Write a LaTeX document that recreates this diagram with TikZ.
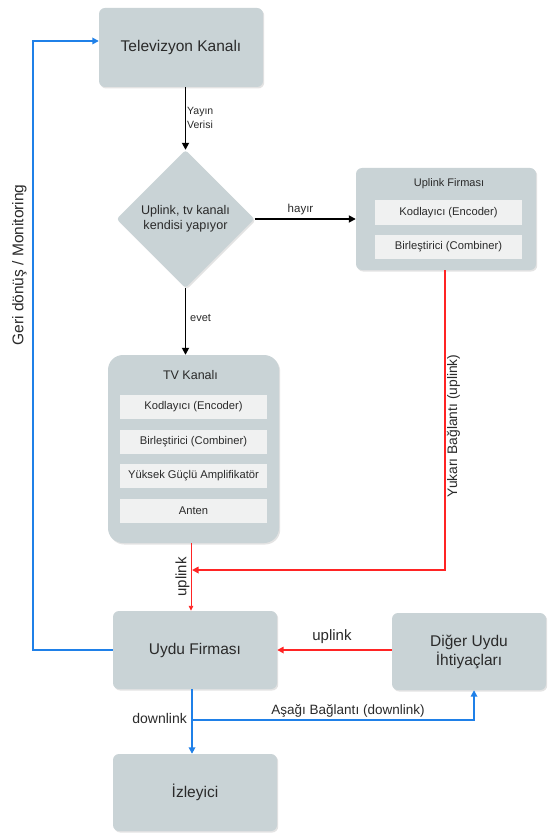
\documentclass[tikz,border=0pt]{standalone}
\usepackage{fontspec}
\setmainfont{Liberation Sans}
\usetikzlibrary{shapes.geometric,arrows.meta,shadows}
\definecolor{boxgray}{HTML}{C9D3D6}
\definecolor{innerg}{HTML}{F0F1F1}
\definecolor{lblue}{HTML}{1F80E8}
\definecolor{lred}{HTML}{FF2424}
\definecolor{txt}{HTML}{2A2A2A}
\begin{document}
\begin{tikzpicture}[x=1pt,y=1pt,
  box/.style={fill=boxgray, rounded corners=6pt, drop shadow={opacity=0.22, shadow xshift=1.2pt, shadow yshift=-1.5pt}, text=txt, font=\fontsize{15.5}{19}\selectfont, align=center, inner sep=0pt},
  innerbox/.style={fill=innerg, minimum width=147pt, minimum height=24pt, font=\fontsize{11.2}{13}\selectfont, text=txt, inner sep=0pt},
  lbl/.style={text=txt, inner sep=0pt},
  blk/.style={draw=black, line width=1.7pt, -{Triangle[length=7pt,width=7pt]}},
  blu/.style={draw=lblue, line width=1.6pt, -{Triangle[length=6.5pt,width=6.5pt]}},
  redthick/.style={draw=lred, line width=1.6pt, -{Triangle[length=6.5pt,width=6.5pt]}},
  redthin/.style={draw=lred, line width=0.9pt, -{Triangle[length=5pt,width=4.5pt]}}
]
\useasboundingbox (0,0) rectangle (547,-834);
\fill[white] (0,0) rectangle (547,-834);

% main boxes
\node[box, minimum width=164pt, minimum height=79pt] (tvk) at (181,-47.5) {Televizyon Kanalı};
\node[diamond, fill=boxgray, rounded corners=3pt, drop shadow={opacity=0.22, shadow xshift=1.2pt, shadow yshift=-1.5pt}, minimum width=138pt, minimum height=138pt, inner sep=0pt, align=center, text=txt, font=\fontsize{12.6}{15}\selectfont] (dia) at (185.5,-219) {Uplink, tv kanalı\\kendisi yapıyor};

\node[box, minimum width=180pt, minimum height=102pt] (ufirm) at (446,-219) {};
\node[lbl, font=\fontsize{11}{13}\selectfont] (uftitle) at (449,-184) {Uplink Firması};
\node[innerbox] (uf1) at (448.5,-212.5) {Kodlayıcı (Encoder)};
\node[innerbox] (uf2) at (448.5,-247) {Birleştirici (Combiner)};

\node[box, rounded corners=15pt, minimum width=171pt, minimum height=188pt] (tvbox) at (193.5,-449) {};
\node[lbl, font=\fontsize{12.5}{15}\selectfont] (tvtitle) at (190.5,-375) {TV Kanalı};
\node[innerbox] (tv1) at (193.5,-407) {Kodlayıcı (Encoder)};
\node[innerbox] (tv2) at (193.5,-441.5) {Birleştirici (Combiner)};
\node[innerbox] (tv3) at (193.5,-476) {Yüksek Güçlü Amplifikatör};
\node[innerbox] (tv4) at (193.5,-511) {Anten};

\node[box, minimum width=164pt, minimum height=78pt] (uydu) at (195,-650) {Uydu Firması};
\node[box, minimum width=154pt, minimum height=77pt] (diger) at (469,-651.5) {Diğer Uydu\\İhtiyaçları};
\node[box, minimum width=164pt, minimum height=77pt] (izle) at (195,-792.5) {İzleyici};

% helper coordinates
\coordinate (jr) at (191,-570);
\coordinate (c1) at (445,-570);
\coordinate (fb1) at (33,-650);
\coordinate (fb2) at (33,-41);
\coordinate (dl) at (192,-720);
\coordinate (dr) at (474,-720);

% black arrows
\draw[blk] (dia.north |- tvk.south) -- (dia.north);
\draw[blk] (dia.east) -- (ufirm.west |- dia.east);
\draw[blk] (dia.south) -- (dia.south |- tvbox.north);
\node[lbl, font=\fontsize{10.5}{14}\selectfont, align=left, anchor=west] (yv) at (187,-118) {Yayın\\Verisi};
\node[lbl, font=\fontsize{11.5}{13}\selectfont] (hy) at (300.5,-210) {hayır};
\node[lbl, font=\fontsize{11}{13}\selectfont, anchor=west] (ev) at (190,-318) {evet};

% red uplinks
\draw[redthin] (tvbox.south -| jr) -- (uydu.north -| jr);
\draw[redthick] (ufirm.south -| c1) -- (c1) -- ([xshift=1pt]jr);
\draw[redthick] (diger.west |- uydu.east) -- (uydu.east);
\node[lbl, rotate=90, font=\fontsize{15}{18}\selectfont] (ul1) at (182.5,-577) {uplink};
\node[lbl, rotate=90, font=\fontsize{13.8}{16}\selectfont] (ul2) at (453.5,-426) {Yukarı Bağlantı (uplink)};
\node[lbl, font=\fontsize{15}{18}\selectfont] (ul3) at (332,-637) {uplink};

% blue
\draw[blu] (uydu.west) -- (fb1) -- (fb2) -- (tvk.west |- fb2);
\node[lbl, rotate=90, font=\fontsize{15.5}{18}\selectfont] (geri) at (19.5,-265) {Geri dönüş / Monitoring};
\draw[blu] (uydu.south -| dl) -- (izle.north -| dl);
\draw[blu] (dl) -- (dr) -- (diger.south -| dr);
\node[lbl, font=\fontsize{14}{16}\selectfont, anchor=east] (dn) at (187,-718) {downlink};
\node[lbl, font=\fontsize{13.5}{16}\selectfont] (asb) at (348,-711) {Aşağı Bağlantı (downlink)};
\end{tikzpicture}
\end{document}
